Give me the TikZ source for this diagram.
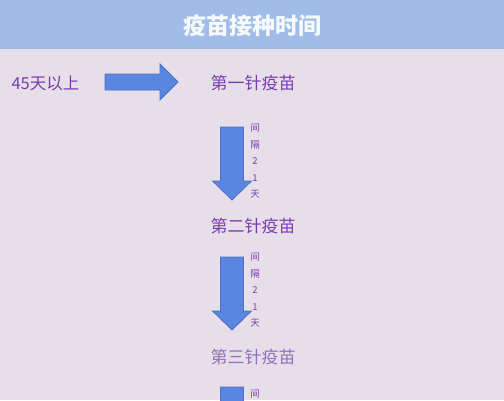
\documentclass[tikz,border=0pt]{standalone}
\usepackage{fontspec}
\newfontfamily\cjk{Noto Sans CJK SC}
\definecolor{bgc}{HTML}{E6DFEA}
\definecolor{headc}{HTML}{A0BDE8}
\definecolor{txtc}{HTML}{7A3DB0}
\definecolor{txtlight}{HTML}{9570C0}
\definecolor{arrfill}{HTML}{5A86E0}
\definecolor{arrdraw}{HTML}{4A70C8}
\tikzset{
  x=1pt, y=-1pt,
  arrowshape/.style={fill=arrfill, draw=arrdraw, line width=0.8pt, line join=miter},
  stage/.style={font=\cjk\fontsize{17}{17}\selectfont, text=txtc, inner sep=0pt},
  gap/.style={font=\cjk\fontsize{9.5}{16.5}\selectfont, text=txtc, align=center, inner sep=0pt},
}
% down arrow: #1 = x centre, #2 = top y
\newcommand\downarr[2]{%
  \draw[arrowshape] (#1-11.5,#2) -- (#1+11.5,#2) -- (#1+11.5,#2+54) -- (#1+19.5,#2+54)
    -- (#1,#2+73) -- (#1-19.5,#2+54) -- (#1-11.5,#2+54) -- cycle;}
\begin{document}
\begin{tikzpicture}
\useasboundingbox (0,0) rectangle (504,400);
\clip (0,0) rectangle (504,400);
\fill[bgc] (0,0) rectangle (504,400);
\fill[headc] (0,0) rectangle (504,49);
\node[font=\cjk\bfseries\fontsize{23}{23}\selectfont, text=white!92!headc, inner sep=0pt] (title) at (252,26) {疫苗接种时间};
\node[font=\cjk\fontsize{16.5}{16.5}\selectfont, text=txtc, inner sep=0pt] (pre) at (45.5,83) {45天以上};
\draw[arrowshape] (105,74) -- (160,74) -- (160,64) -- (178,82) -- (160,100) -- (160,90) -- (105,90) -- cycle;
\node[stage] (s1) at (253,83) {第一针疫苗};
\downarr{232}{127}
\node[gap] (g1) at (255,161) {间\\隔\\2\\1\\天};
\node[stage] (s2) at (253,226) {第二针疫苗};
\downarr{232}{257}
\node[gap] (g2) at (255,290) {间\\隔\\2\\1\\天};
\node[stage, text=txtlight] (s3) at (253,357) {第三针疫苗};
\downarr{232}{387}
\node[gap] (g3) at (255,394) {间};
\end{tikzpicture}
\end{document}
